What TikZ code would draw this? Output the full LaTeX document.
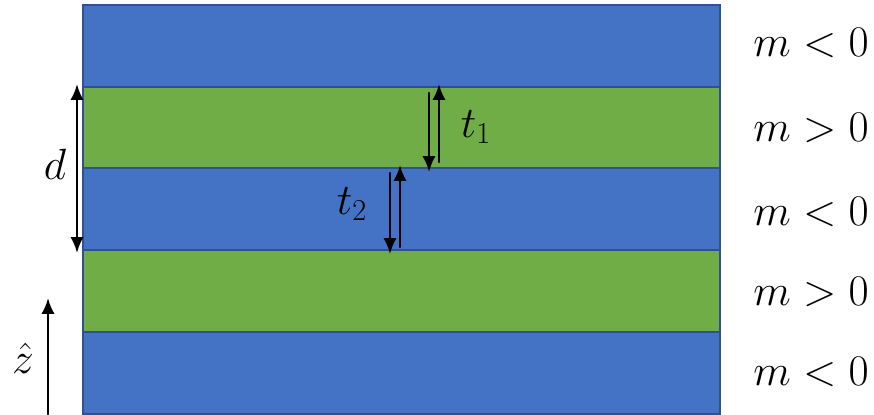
\documentclass[tikz,border=0pt]{standalone}
\usepackage{tikz}
\usetikzlibrary{arrows.meta}
\definecolor{lblue}{HTML}{4472C4}
\definecolor{lgreen}{HTML}{70AD47}
\definecolor{edge}{HTML}{2F528F}

\begin{document}
\begin{tikzpicture}[x=0.02cm,y=-0.02cm,
  layer/.style={draw=edge,line width=0.8pt},
  tip/.tip={Latex[length=9pt,width=7.5pt]},
  arr/.style={line width=1.5pt,line cap=round,-tip},
  lab/.style={font=\fontsize{23.5}{28}\selectfont}]
  \useasboundingbox (0,0) rectangle (874,414);
  % layers, top to bottom
  \draw[layer,fill=lblue] (83,5) rectangle (720,87);
  \draw[layer,fill=lgreen] (83,87) rectangle (720,168);
  \draw[layer,fill=lblue] (83,168) rectangle (720,250);
  \draw[layer,fill=lgreen] (83,250) rectangle (720,332);
  \draw[layer,fill=lblue] (83,332) rectangle (720,414);
  % mass labels
  \node[lab] (m1) at (811,43) {$m<0$};
  \node[lab] (m2) at (811,128) {$m>0$};
  \node[lab] (m3) at (811,212) {$m<0$};
  \node[lab] (m4) at (811,292) {$m>0$};
  \node[lab] (m5) at (811,372) {$m<0$};
  % t1
  \coordinate (t1a) at (429,93);
  \coordinate (t1b) at (429,172);
  \coordinate (t1c) at (439,162);
  \coordinate (t1d) at (439,84);
  \draw[arr] (t1a) -- (t1b);
  \draw[arr] (t1c) -- (t1d);
  \node[lab] (t1) at (476,127) {$t_1$};
  % t2
  \coordinate (t2a) at (390,173);
  \coordinate (t2b) at (390,254);
  \coordinate (t2c) at (400,247);
  \coordinate (t2d) at (400,165);
  \draw[arr] (t2a) -- (t2b);
  \draw[arr] (t2c) -- (t2d);
  \node[lab] (t2) at (352,204) {$t_2$};
  % period
  \coordinate (da) at (77,84);
  \coordinate (db) at (77,253);
  \draw[arr,tip-tip] (da) -- (db);
  \node[lab] (d) at (55,164) {$d$};
  % z axis
  \coordinate (za) at (48,414);
  \coordinate (zb) at (48,298);
  \draw[arr] (za) -- (zb);
  \node[lab] (z) at (23,358) {$\hat{z}$};
\end{tikzpicture}
\end{document}
